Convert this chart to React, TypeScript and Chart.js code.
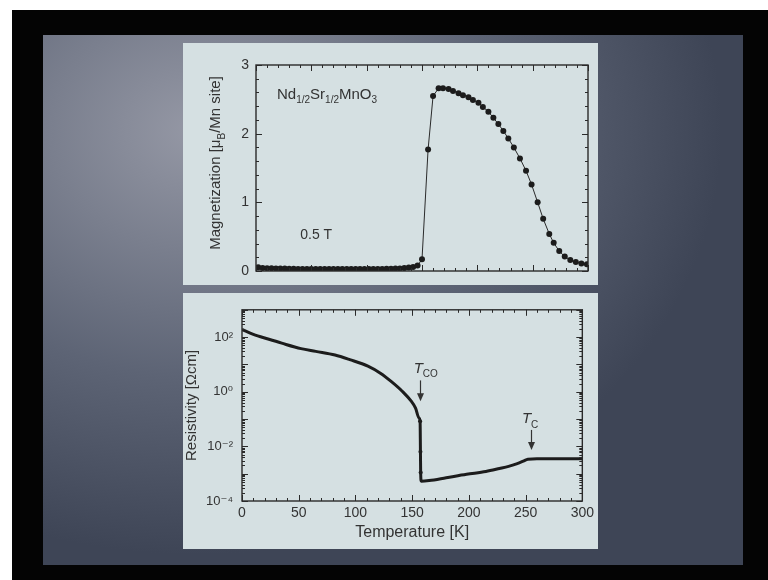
import React, { useEffect, useRef } from "react";
import { Chart, registerables } from "chart.js";

Chart.register(...registerables);

const FONT = "'Liberation Sans', Arial, Helvetica, 'DejaVu Sans', sans-serif";
const TEXT = "#333333";
const INK = "#1c1c1c";

// ---- Top panel: magnetization vs temperature (0.5 T) ----
const magTemps = [
  2, 6, 10, 14, 18, 22, 26, 30, 34, 38, 42, 46, 50, 54, 58, 62, 66, 70, 74, 78,
  82, 86, 90, 94, 98, 102, 106, 110, 114, 118, 122, 126, 130, 134, 138, 142, 146,
  150, 155.5, 160, 165, 169, 174, 178, 183, 187, 192, 196, 201, 205, 210, 214.5,
  219, 223.5, 228, 233, 238.5, 244, 249, 254.5, 259.5, 265, 269, 274, 279, 284,
  289, 294, 299,
];
const magValues = [
  0.055, 0.045, 0.04, 0.04, 0.038, 0.035, 0.035, 0.033, 0.032, 0.03, 0.03, 0.03,
  0.03, 0.03, 0.028, 0.028, 0.028, 0.028, 0.028, 0.028, 0.028, 0.028, 0.03, 0.03,
  0.03, 0.03, 0.03, 0.03, 0.03, 0.032, 0.033, 0.035, 0.038, 0.042, 0.05, 0.06,
  0.08, 0.17, 1.77, 2.55, 2.66, 2.66, 2.65, 2.62, 2.59, 2.56, 2.53, 2.49, 2.45,
  2.39, 2.32, 2.23, 2.14, 2.04, 1.93, 1.8, 1.64, 1.46, 1.26, 1.0, 0.76, 0.54,
  0.41, 0.29, 0.21, 0.16, 0.13, 0.11, 0.1,
];
const magTickValues = [0, 1, 2, 3];
const magTickLabels = ["0", "1", "2", "3"];

// ---- Bottom panel: resistivity vs temperature ----
const resTemps = [
  0, 10, 23, 35, 52, 65, 82, 95, 111, 122, 132, 141, 149, 153, 156, 157, 157.3,
  157.5, 158, 165, 180, 198, 215, 227, 235, 242, 248, 252, 260, 280, 300,
];
const resValues = [
  190, 126, 85, 60, 38, 30, 22, 15, 8.7, 4.8, 2.3, 1.07, 0.46, 0.25, 0.11, 0.083,
  0.0063, 0.0011, 0.00053, 0.00056, 0.00071, 0.00095, 0.0012, 0.00155, 0.00186,
  0.0023, 0.0029, 0.0034, 0.0035, 0.0035, 0.0035,
];
const resTickValues = [1e-4, 1e-3, 1e-2, 1e-1, 1e0, 1e1, 1e2, 1e3];
const resTickLabels = ["10⁻⁴", "", "10⁻²", "", "10⁰", "", "10²", ""];

const tempTickValues = [0, 50, 100, 150, 200, 250, 300];
const tempTickLabels = ["0", "50", "100", "150", "200", "250", "300"];

type Part = { t: string; sub?: boolean; italic?: boolean };

function drawRich(
  ctx: CanvasRenderingContext2D,
  parts: Part[],
  x: number,
  y: number,
  size: number,
  align: "left" | "center"
) {
  const fontFor = (p: Part) =>
    `${p.italic ? "italic " : ""}${p.sub ? Math.round(size * 0.68) : size}px ${FONT}`;
  let total = 0;
  for (const p of parts) {
    ctx.font = fontFor(p);
    total += ctx.measureText(p.t).width;
  }
  let cx = align === "center" ? x - total / 2 : x;
  ctx.textAlign = "left";
  ctx.textBaseline = "alphabetic";
  for (const p of parts) {
    ctx.font = fontFor(p);
    ctx.fillText(p.t, cx, p.sub ? y + size * 0.32 : y);
    cx += ctx.measureText(p.t).width;
  }
}

function minorList(from: number, to: number, step: number) {
  const out: number[] = [];
  for (let v = from; v <= to + 1e-9; v += step) out.push(+v.toFixed(6));
  return out;
}

const frameTicks = {
  id: "frameTicks",
  afterDatasetsDraw(chart: any, _args: any, opts: any) {
    const { ctx, chartArea: a, scales } = chart;
    const xs = scales.x;
    const ys = scales.y;
    ctx.save();
    ctx.strokeStyle = "#2a2a2a";
    ctx.lineWidth = 1.4;
    ctx.strokeRect(a.left, a.top, a.right - a.left, a.bottom - a.top);
    ctx.lineWidth = 1;
    const drawX = (vals: number[], len: number) => {
      for (const v of vals) {
        const px = Math.round(xs.getPixelForValue(v)) + 0.5;
        ctx.beginPath();
        ctx.moveTo(px, a.bottom);
        ctx.lineTo(px, a.bottom - len);
        ctx.moveTo(px, a.top);
        ctx.lineTo(px, a.top + len);
        ctx.stroke();
      }
    };
    const drawY = (vals: number[], len: number) => {
      for (const v of vals) {
        const py = Math.round(ys.getPixelForValue(v)) + 0.5;
        if (py < a.top - 0.5 || py > a.bottom + 0.5) continue;
        ctx.beginPath();
        ctx.moveTo(a.left, py);
        ctx.lineTo(a.left + len, py);
        ctx.moveTo(a.right, py);
        ctx.lineTo(a.right - len, py);
        ctx.stroke();
      }
    };
    drawX(opts.xMinor, 3);
    drawX(opts.xMajor, 6);
    drawY(opts.yMinor, 3);
    drawY(opts.yMajor, 6);
    ctx.restore();
  },
};

const magAnnotations = {
  id: "magAnnotations",
  afterDraw(chart: any) {
    const { ctx, chartArea: a, scales } = chart;
    const xs = scales.x;
    const ys = scales.y;
    ctx.save();
    ctx.fillStyle = TEXT;
    drawRich(
      ctx,
      [
        { t: "Nd" },
        { t: "1/2", sub: true },
        { t: "Sr" },
        { t: "1/2", sub: true },
        { t: "MnO" },
        { t: "3", sub: true },
      ],
      xs.getPixelForValue(19),
      ys.getPixelForValue(2.51),
      15,
      "left"
    );
    drawRich(ctx, [{ t: "0.5 T" }], xs.getPixelForValue(40), ys.getPixelForValue(0.47), 14, "left");
    // rotated y-axis title with subscript
    ctx.translate(32, (a.top + a.bottom) / 2 - 5);
    ctx.rotate(-Math.PI / 2);
    drawRich(
      ctx,
      [{ t: "Magnetization [μ" }, { t: "B", sub: true }, { t: "/Mn site]" }],
      0,
      5,
      15,
      "center"
    );
    ctx.restore();
  },
};

function arrow(ctx: CanvasRenderingContext2D, x: number, y1: number, y2: number) {
  ctx.beginPath();
  ctx.moveTo(x, y1);
  ctx.lineTo(x, y2 - 6);
  ctx.stroke();
  ctx.beginPath();
  ctx.moveTo(x - 3.5, y2 - 8);
  ctx.lineTo(x + 3.5, y2 - 8);
  ctx.lineTo(x, y2);
  ctx.closePath();
  ctx.fill();
}

const resAnnotations = {
  id: "resAnnotations",
  afterDraw(chart: any) {
    const { ctx, scales } = chart;
    const xs = scales.x;
    const ys = scales.y;
    ctx.save();
    ctx.fillStyle = TEXT;
    ctx.strokeStyle = "#333";
    ctx.lineWidth = 1.2;
    drawRich(
      ctx,
      [{ t: "T", italic: true }, { t: "CO", sub: true }],
      xs.getPixelForValue(162),
      ys.getPixelForValue(5.0),
      15,
      "center"
    );
    arrow(ctx, Math.round(xs.getPixelForValue(157)) + 0.5, ys.getPixelForValue(2.6), ys.getPixelForValue(0.45));
    drawRich(
      ctx,
      [{ t: "T", italic: true }, { t: "C", sub: true }],
      xs.getPixelForValue(254),
      ys.getPixelForValue(0.07),
      15,
      "center"
    );
    arrow(ctx, Math.round(xs.getPixelForValue(255)) + 0.5, ys.getPixelForValue(0.04), ys.getPixelForValue(0.0074));
    ctx.restore();
  },
};

function MagChart() {
  const ref = useRef<HTMLCanvasElement>(null);
  useEffect(() => {
    const chart = new Chart(ref.current as HTMLCanvasElement, {
      type: "line",
      data: {
        datasets: [
          {
            data: magTemps.map((t, i) => ({ x: t, y: magValues[i] })),
            borderColor: "#2a2a2a",
            borderWidth: 1,
            pointRadius: 3,
            pointBackgroundColor: INK,
            pointBorderWidth: 0,
            tension: 0,
          },
        ],
      },
      options: {
        animation: false,
        responsive: false,
        layout: { padding: { left: 0, right: 10, top: 22, bottom: 7 } },
        plugins: {
          legend: { display: false },
          tooltip: { enabled: false },
          frameTicks: {
            xMajor: tempTickValues,
            xMinor: minorList(0, 300, 10),
            yMajor: magTickValues,
            yMinor: minorList(0, 3, 0.2),
          },
        } as any,
        scales: {
          x: { type: "linear", min: 0, max: 300, display: false },
          y: {
            type: "linear",
            min: 0,
            max: 3,
            afterBuildTicks: (s: any) => {
              s.ticks = magTickValues.map((v) => ({ value: v }));
            },
            afterFit: (s: any) => {
              s.width = 73;
            },
            grid: { display: false, drawTicks: false },
            border: { display: false },
            ticks: {
              padding: 7,
              color: TEXT,
              font: { family: FONT, size: 14, lineHeight: 1 },
              callback: (_v: any, i: number) => magTickLabels[i],
            },
          },
        },
      },
      plugins: [frameTicks, magAnnotations],
    });
    return () => chart.destroy();
  }, []);
  return <canvas ref={ref} width={415} height={242} style={{ width: 415, height: 242, display: "block" }} />;
}

function ResChart() {
  const ref = useRef<HTMLCanvasElement>(null);
  useEffect(() => {
    const logMinor: number[] = [];
    for (let e = -4; e < 3; e++) for (let m = 2; m <= 9; m++) logMinor.push(m * Math.pow(10, e));
    const chart = new Chart(ref.current as HTMLCanvasElement, {
      type: "line",
      data: {
        datasets: [
          {
            data: resTemps.map((t, i) => ({ x: t, y: resValues[i] })),
            borderColor: INK,
            borderWidth: 3,
            cubicInterpolationMode: "monotone",
            pointRadius: (c: any) => (c.dataIndex >= 15 && c.dataIndex <= 17 ? 2 : 0),
            pointBackgroundColor: INK,
            pointBorderWidth: 0,
          },
        ],
      },
      options: {
        animation: false,
        responsive: false,
        layout: { padding: { left: 0, right: 15, top: 7, bottom: 0 } },
        plugins: {
          legend: { display: false },
          tooltip: { enabled: false },
          frameTicks: {
            xMajor: tempTickValues,
            xMinor: minorList(0, 300, 10),
            yMajor: resTickValues,
            yMinor: logMinor,
          },
        } as any,
        scales: {
          x: {
            type: "linear",
            min: 0,
            max: 300,
            afterBuildTicks: (s: any) => {
              s.ticks = tempTickValues.map((v) => ({ value: v }));
            },
            afterFit: (s: any) => {
              s.height = 48;
            },
            grid: { display: false, drawTicks: false },
            border: { display: false },
            ticks: {
              padding: 4,
              color: TEXT,
              maxRotation: 0,
              font: { family: FONT, size: 14 },
              callback: (_v: any, i: number) => tempTickLabels[i],
            },
            title: {
              display: true,
              text: "Temperature [K]",
              color: TEXT,
              font: { family: FONT, size: 16 },
              padding: { top: 0, bottom: 7 },
            },
          },
          y: {
            type: "logarithmic",
            min: 1e-4,
            max: 1e3,
            afterBuildTicks: (s: any) => {
              s.ticks = resTickValues.map((v) => ({ value: v }));
            },
            afterFit: (s: any) => {
              s.width = 59;
            },
            grid: { display: false, drawTicks: false },
            border: { display: false },
            ticks: {
              padding: 9,
              color: TEXT,
              font: { family: FONT, size: 13 },
              callback: (_v: any, i: number) => resTickLabels[i],
            },
            title: {
              display: true,
              text: "Resistivity [Ωcm]",
              color: TEXT,
              font: { family: FONT, size: 15 },
              padding: { top: 0, bottom: 0 },
            },
          },
        },
      },
      plugins: [frameTicks, resAnnotations],
    });
    return () => chart.destroy();
  }, []);
  return <canvas ref={ref} width={415} height={256} style={{ width: 415, height: 256, display: "block" }} />;
}

export default function App() {
  return (
    <div style={{ position: "absolute", left: 0, top: 0, width: 768, height: 580, background: "#ffffff", overflow: "hidden" }}>
      <div style={{ position: "absolute", left: 12, top: 10, width: 756, height: 570, background: "#040404" }} />
      <div
        style={{
          position: "absolute",
          left: 43,
          top: 35,
          width: 700,
          height: 530,
          background:
            "radial-gradient(ellipse 75% 80% at 22% 18%, #9598a5 0%, #7a7f8e 28%, #5d6475 58%, #3e4556 100%)",
        }}
      />
      <div style={{ position: "absolute", left: 183, top: 43, width: 415, height: 242, background: "#d5e0e2" }}>
        <MagChart />
      </div>
      <div style={{ position: "absolute", left: 183, top: 293, width: 415, height: 256, background: "#d5e0e2" }}>
        <ResChart />
      </div>
    </div>
  );
}
